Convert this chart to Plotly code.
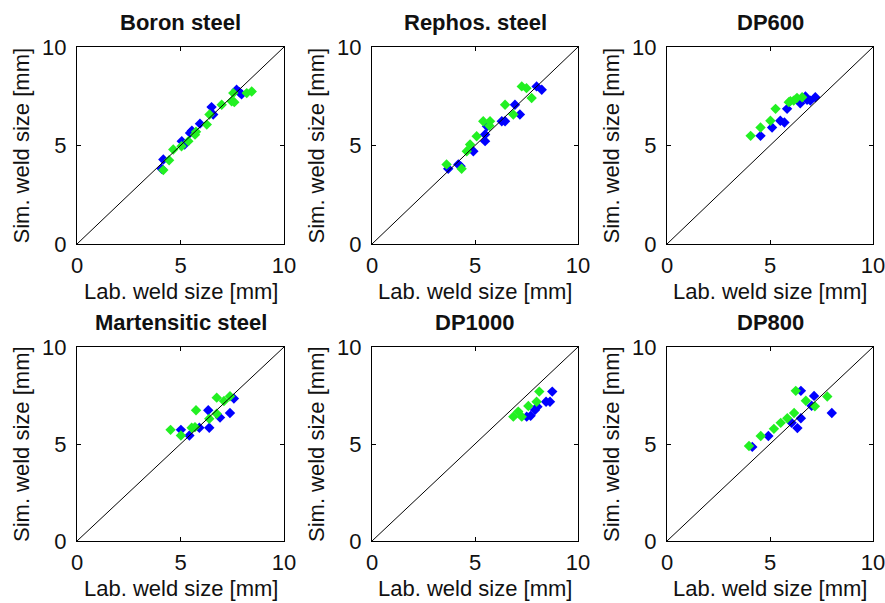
import plotly.graph_objects as go

titles = ["Boron steel", "Rephos. steel", "DP600", "Martensitic steel", "DP1000", "DP800"]
x_label = "Lab. weld size [mm]"
y_label = "Sim. weld size [mm]"

# Blue series (lab, sim) per panel
boron_blue_x = [4.09, 4.17, 5.06, 5.20, 5.46, 5.55, 5.94, 6.50, 6.58, 7.71, 7.85, 7.95]
boron_blue_y = [3.82, 4.29, 5.22, 5.05, 5.64, 5.75, 6.11, 6.95, 6.57, 7.83, 7.70, 7.60]
boron_green_x = [4.17, 4.45, 4.65, 5.05, 5.38, 5.70, 5.75, 6.27, 6.40, 6.99, 7.47, 7.55, 7.60, 8.20, 8.44]
boron_green_y = [3.75, 4.25, 4.80, 4.96, 5.22, 5.55, 5.70, 6.06, 6.57, 7.07, 7.24, 7.66, 7.20, 7.66, 7.74]

rephos_blue_x = [3.70, 4.19, 4.30, 4.92, 5.49, 5.49, 5.58, 6.30, 6.46, 6.94, 7.18, 7.99, 8.24]
rephos_blue_y = [3.82, 4.04, 3.95, 4.71, 5.22, 5.56, 5.98, 6.23, 6.23, 7.07, 6.57, 8.00, 7.83]
rephos_green_x = [3.62, 4.35, 4.60, 4.76, 5.08, 5.40, 5.73, 5.70, 6.46, 6.86, 7.27, 7.50, 7.75]
rephos_green_y = [4.04, 3.82, 4.71, 5.05, 5.47, 6.23, 6.23, 6.00, 7.07, 6.57, 8.00, 7.91, 7.41]

dp600_blue_x = [4.54, 5.10, 5.50, 5.70, 5.83, 6.47, 6.72, 6.80, 6.96, 7.20]
dp600_blue_y = [5.49, 5.91, 6.26, 6.17, 6.86, 7.14, 7.49, 7.32, 7.28, 7.45]
dp600_green_x = [4.06, 4.54, 5.02, 5.27, 5.91, 5.99, 6.15, 6.31, 6.56]
dp600_green_y = [5.49, 5.91, 6.26, 6.86, 7.20, 7.25, 7.28, 7.42, 7.45]

mart_blue_x = [5.02, 5.43, 5.91, 6.34, 6.39, 6.91, 7.39, 7.58]
mart_blue_y = [5.73, 5.44, 5.84, 6.74, 5.84, 6.36, 6.60, 7.34]
mart_green_x = [4.52, 5.02, 5.54, 5.70, 5.75, 6.39, 6.75, 6.75, 7.10, 7.39]
mart_green_y = [5.73, 5.44, 5.84, 5.87, 6.74, 6.30, 7.39, 6.56, 7.22, 7.46]

dp1000_blue_x = [7.51, 7.70, 7.91, 8.03, 8.45, 8.64, 8.75]
dp1000_blue_y = [6.41, 6.45, 6.75, 6.92, 7.18, 7.18, 7.70]
dp1000_green_x = [6.86, 7.10, 7.27, 7.59, 7.99, 8.12]
dp1000_green_y = [6.41, 6.67, 6.41, 6.96, 7.18, 7.70]

dp800_blue_x = [4.14, 4.92, 6.05, 6.33, 6.50, 6.50, 7.02, 7.14, 8.00]
dp800_blue_y = [4.85, 5.41, 6.09, 5.82, 6.33, 7.74, 6.97, 7.48, 6.60]
dp800_green_x = [3.98, 4.55, 5.19, 5.52, 5.84, 6.17, 6.25, 6.74, 7.18, 7.78]
dp800_green_y = [4.90, 5.41, 5.78, 6.09, 6.33, 6.60, 7.74, 7.23, 6.94, 7.45]

panels = [
    (boron_blue_x, boron_blue_y, boron_green_x, boron_green_y),
    (rephos_blue_x, rephos_blue_y, rephos_green_x, rephos_green_y),
    (dp600_blue_x, dp600_blue_y, dp600_green_x, dp600_green_y),
    (mart_blue_x, mart_blue_y, mart_green_x, mart_green_y),
    (dp1000_blue_x, dp1000_blue_y, dp1000_green_x, dp1000_green_y),
    (dp800_blue_x, dp800_blue_y, dp800_green_x, dp800_green_y),
]

diag_x = [0, 10]
diag_y = [0, 10]
tick_vals = [0, 5, 10]
tick_text = ["0", "5", "10"]

W, H = 885, 603
col_px = [(77, 284), (372, 578), (667, 873)]
row_px = [(47, 244), (347, 541)]

BLUE = "#0000ff"
GREEN = "#22f022"
FONT = "Liberation Sans, Arial, sans-serif"
TXT = "#111111"

fig = go.Figure()
layout = dict(
    width=W, height=H, margin=dict(l=0, r=0, t=0, b=0, autoexpand=False),
    paper_bgcolor="white", plot_bgcolor="white", showlegend=False,
    font=dict(family=FONT, size=21, color=TXT),
)
annotations = []
for i, (bx, by, gx, gy) in enumerate(panels):
    r, c = divmod(i, 3)
    n = "" if i == 0 else str(i + 1)
    xa, ya = "x" + n, "y" + n
    x0, x1 = col_px[c]
    y0, y1 = row_px[r]
    xdom = [x0 / W, x1 / W]
    ydom = [1 - y1 / H, 1 - y0 / H]
    common = dict(range=[0, 10], tickvals=tick_vals, ticktext=tick_text,
                  ticks="inside", ticklen=4, tickcolor="black", showgrid=False,
                  zeroline=False, showline=True, linecolor="black", linewidth=1,
                  mirror="allticks", tickfont=dict(size=22, family=FONT, color=TXT),
                  fixedrange=True, automargin=False, ticklabeloverflow="allow")
    layout["xaxis" + n] = dict(common, domain=xdom, anchor=ya, ticklabelstandoff=2)
    layout["yaxis" + n] = dict(common, domain=ydom, anchor=xa, ticklabelstandoff=5)
    # panel title
    annotations.append(dict(text="<b>" + titles[i] + "</b>", x=(x0 + x1) / 2 / W,
                            y=1 - (y0 - 25) / H, xref="paper", yref="paper",
                            xanchor="center", yanchor="middle", showarrow=False,
                            font=dict(size=22, family=FONT, color=TXT)))
    # x axis label
    annotations.append(dict(text=x_label, x=(x0 + x1) / 2 / W, y=1 - (y1 + 47) / H,
                            xref="paper", yref="paper", xanchor="center",
                            yanchor="middle", showarrow=False,
                            font=dict(size=22, family=FONT, color=TXT)))
    # y axis label
    annotations.append(dict(text=y_label, x=(x0 - 56) / W, y=1 - (y0 + y1) / 2 / H,
                            xref="paper", yref="paper", xanchor="center",
                            yanchor="middle", textangle=-90, showarrow=False,
                            font=dict(size=22, family=FONT, color=TXT)))
    fig.add_trace(go.Scatter(x=bx, y=by, mode="markers", xaxis=xa, yaxis=ya,
                             marker=dict(symbol="diamond", size=8, color=BLUE)))
    fig.add_trace(go.Scatter(x=gx, y=gy, mode="markers", xaxis=xa, yaxis=ya,
                             marker=dict(symbol="diamond", size=8, color=GREEN)))
    fig.add_trace(go.Scatter(x=diag_x, y=diag_y, mode="lines", xaxis=xa, yaxis=ya,
                             line=dict(color="black", width=1)))
layout["annotations"] = annotations
fig.update_layout(**layout)
fig.write_html("out.html", config={"displayModeBar": False},
               post_script="document.body.style.margin='0px';")
